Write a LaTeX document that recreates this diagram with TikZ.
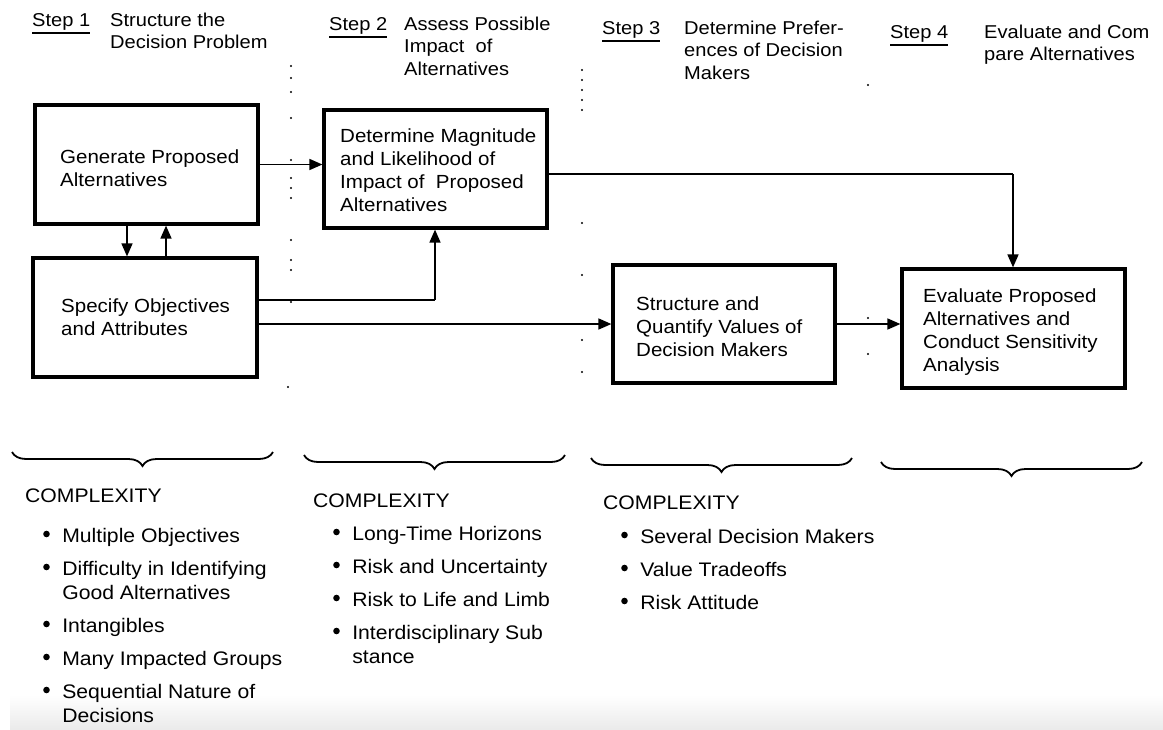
\documentclass[tikz,border=0pt]{standalone}
\usepackage{fontspec}
\setmainfont{Liberation Sans}[FakeStretch=1.08]
\usetikzlibrary{arrows.meta,decorations.pathreplacing}
% stacked lines of text, the first baseline being the node's base
\newcommand{\stack}[1]{\begin{tabular}[t]{@{}l@{}}#1\end{tabular}}
% bulleted list, one row per printed line
\newcommand{\blist}[1]{\begin{tabular}[t]{@{}l@{\hspace{12.5pt}}l@{}}#1\end{tabular}}
% round list bullet
\newcommand{\bul}{\tikz[baseline=-8pt]\fill (0,0) circle (3.3pt);}
\begin{document}
\begin{tikzpicture}[x=1pt,y=-1pt,
  box/.style={draw, line width=3.2pt, inner sep=0pt},
  txt/.style={anchor=base west, inner sep=0pt, font=\fontsize{19}{23}\selectfont},
  hdr/.style={anchor=base west, inner sep=0pt, font=\fontsize{18.6}{22.5}\selectfont},
  lst/.style={anchor=base west, inner sep=0pt, font=\fontsize{19.6}{24}\selectfont},
  arr/.style={line width=1.6pt, -{Triangle[length=13pt,width=11pt]}},
  link/.style={line width=1.6pt},
  ulin/.style={line width=1.8pt},
  brc/.style={line width=1.8pt, decorate, decoration={brace, mirror, amplitude=14pt}},
  dotmark/.style={fill=black},
]
\useasboundingbox (0,0) rectangle (1163,729);

% light grey strip along the bottom edge
\shade[top color=white, bottom color=black!8] (10,695) rectangle (1163,729);

% ---- step headings ----
\node[hdr] (s1) at (32,26) {Step 1};
\node[hdr] (h1) at (110,26) {\stack{Structure the\\Decision Problem}};
\node[hdr] (s2) at (329,30) {Step 2};
\node[hdr] (h2) at (404,30) {\stack{Assess Possible\\Impact\ \ of\\Alternatives}};
\node[hdr] (s3) at (602,34) {Step 3};
\node[hdr] (h3) at (684,34) {\stack{Determine Prefer-\\ences of Decision\\Makers}};
\node[hdr] (s4) at (890,38) {Step 4};
\node[hdr] (h4) at (984,38) {\stack{Evaluate and Com\\pare Alternatives}};
\foreach \s in {s1,s2,s3,s4}
  \draw[ulin] ([yshift=-7pt]\s.base west) -- ([yshift=-7pt]\s.base east);

% ---- process boxes ----
\node[box, minimum width=223pt, minimum height=119pt] (b1) at (146.5,164.5) {};
\node[box, minimum width=224pt, minimum height=119pt] (b2) at (145,317.5) {};
\node[box, minimum width=223pt, minimum height=118pt] (b3) at (435.5,169) {};
\node[box, minimum width=222pt, minimum height=118pt] (b5) at (724,324) {};
\node[box, minimum width=223pt, minimum height=119pt] (b6) at (1013.5,328.5) {};

\node[txt] (t1) at (60,163) {\stack{Generate Proposed\\Alternatives}};
\node[txt] (t2) at (61,312) {\stack{Specify Objectives\\and Attributes}};
\node[txt] (t3) at (340,142) {\stack{Determine Magnitude\\and Likelihood of\\Impact of\ \ Proposed\\Alternatives}};
\node[txt] (t5) at (636,310) {\stack{Structure and\\Quantify Values of\\Decision Makers}};
\node[txt] (t6) at (923,302) {\stack{Evaluate Proposed\\Alternatives and\\Conduct Sensitivity\\Analysis}};

% ---- connectors ----
\coordinate (dn) at (127,0);
\coordinate (up) at (166,0);
\coordinate (j1) at (435,300);
\coordinate (j2) at (1013,174);
\draw[arr] (dn |- b1.south) -- (dn |- b2.north);
\draw[arr] (up |- b2.north) -- (up |- b1.south);
\draw[arr] (b1.east) -- (b1.east -| b3.west);
\draw[link] (b2.east |- j1) -- (j1);
\draw[arr] (j1) -- (j1 |- b3.south);
\draw[arr] (b2.east |- b5.west) -- (b5.west);
\draw[link] (b3.east |- j2) -- (j2);
\draw[arr] (j2) -- (j2 |- b6.north);
\draw[arr] (b5.east) -- (b5.east -| b6.west);

% ---- dotted column separators ----
\foreach \y in {66,78,92,118,160,178,188,198,240,260,270,302}
  \fill[dotmark] (291,\y) circle (1.2);
\fill[dotmark] (288,387) circle (1.2);
\foreach \y in {70,80,90,100,110,223,275,340,372}
  \fill[dotmark] (582,\y) circle (1.2);
\foreach \y in {85,318,354}
  \fill[dotmark] (868,\y) circle (1.2);

% ---- braces under the four steps ----
\draw[brc] (12,452) -- (273,452);
\draw[brc] (304,455) -- (565,455);
\draw[brc] (591,458) -- (852,458);
\draw[brc] (881,462) -- (1142,462);

% ---- complexity lists ----
\node[lst] (c1) at (25,502) {COMPLEXITY};
\node[lst] (l1) at (43,542) {\blist{\bul & Multiple Objectives\\[9pt]
  \bul & Difficulty in Identifying\\ & Good Alternatives\\[9pt]
  \bul & Intangibles\\[9pt]
  \bul & Many Impacted Groups\\[9pt]
  \bul & Sequential Nature of\\ & Decisions}};
\node[lst] (c2) at (313,507) {COMPLEXITY};
\node[lst] (l2) at (333,540) {\blist{\bul & Long-Time Horizons\\[9pt]
  \bul & Risk and Uncertainty\\[9pt]
  \bul & Risk to Life and Limb\\[9pt]
  \bul & Interdisciplinary Sub\\ & stance}};
\node[lst] (c3) at (603,509) {COMPLEXITY};
\node[lst] (l3) at (621,543) {\blist{\bul & Several Decision Makers\\[9pt]
  \bul & Value Tradeoffs\\[9pt]
  \bul & Risk Attitude}};
\end{tikzpicture}
\end{document}
